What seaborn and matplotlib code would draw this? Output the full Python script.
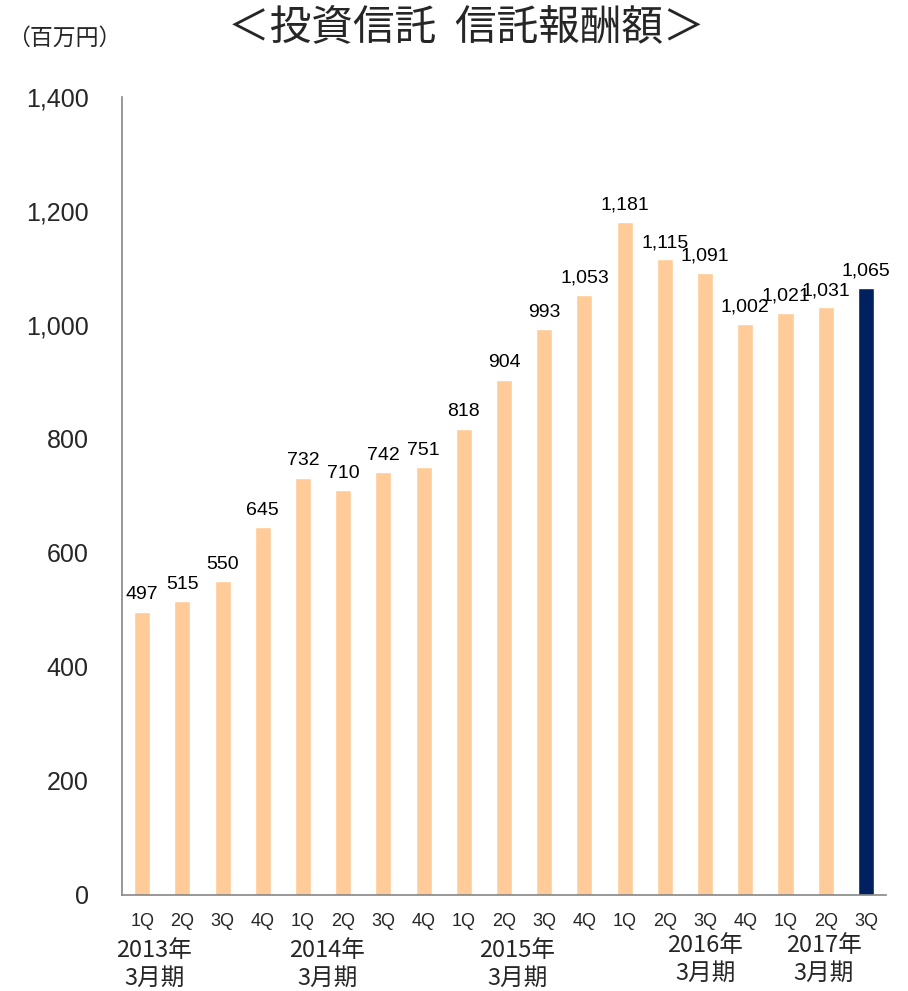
import numpy as np
import pandas as pd
import matplotlib.pyplot as plt
import seaborn as sns

# data (unit: million yen)
quarters = ["1Q", "2Q", "3Q", "4Q",
            "1Q", "2Q", "3Q", "4Q",
            "1Q", "2Q", "3Q", "4Q",
            "1Q", "2Q", "3Q", "4Q",
            "1Q", "2Q", "3Q"]
fees = [497, 515, 550, 645,
        732, 710, 742, 751,
        818, 904, 993, 1053,
        1181, 1115, 1091, 1002,
        1021, 1031, 1065]
fiscal_years = ["2013年", "2014年", "2015年", "2016年", "2017年"]
fiscal_suffix = "3月期"

COLOR_PAST = "#FFCC99"
COLOR_LATEST = "#002060"
AXIS_COLOR = "#868686"

sns.set_style("white")
plt.rcParams["font.family"] = ["Liberation Sans", "Noto Sans CJK JP", "DejaVu Sans"]
CJK = ["Noto Sans CJK JP", "DejaVu Sans"]


def main():
    df = pd.DataFrame({
        "period": [f"{i:02d}" for i in range(len(fees))],
        "fee": fees,
    })
    colors = [COLOR_PAST] * (len(fees) - 1) + [COLOR_LATEST]

    fig = plt.figure(figsize=(9.08, 9.91), dpi=100)
    ax = fig.add_axes([0.1344, 0.0969, 0.8414, 0.8052])

    sns.barplot(data=df, x="period", y="fee", hue="period", palette=colors,
                legend=False, width=0.4, dodge=False, saturation=1, ax=ax)

    for cont in ax.containers:
        ax.bar_label(cont, labels=[f"{int(b.get_height()):,}" for b in cont],
                     padding=6, fontsize=14, color="black")

    ax.set_xlim(-0.5, len(fees) - 0.5)
    ax.set_ylim(0, 1400)
    ax.set_yticks(np.arange(0, 1401, 200))
    ax.yaxis.set_major_formatter(plt.FuncFormatter(lambda v, _: f"{int(v):,}"))
    ax.set_xticks(range(len(fees)))
    ax.set_xticklabels(quarters)
    ax.set_xticks(np.arange(-0.5, len(fees)), minor=True)
    ax.tick_params(axis="x", which="major", length=0, pad=13, labelsize=13)
    ax.tick_params(axis="x", which="minor", length=6, width=1, color=AXIS_COLOR,
                   direction="out")
    ax.tick_params(axis="y", length=6, width=1, color=AXIS_COLOR, direction="out",
                   pad=18, labelsize=18)
    ax.set_xlabel("")
    ax.set_ylabel("")

    for side in ("top", "right"):
        ax.spines[side].set_visible(False)
    for side in ("left", "bottom"):
        ax.spines[side].set_color(AXIS_COLOR)
        ax.spines[side].set_linewidth(1.2)

    # fiscal year group labels under the quarter labels
    trans = ax.get_xaxis_transform()
    year_x = [0.3, 4.6, 9.33, 14.0, 16.95]
    year_y = [-0.069, -0.069, -0.069, -0.063, -0.063]
    for name, x, y in zip(fiscal_years, year_x, year_y):
        ax.text(x, y, name, transform=trans, ha="center", va="center",
                fontsize=17, family=CJK)
        ax.text(x, y - 0.035, fiscal_suffix, transform=trans, ha="center",
                va="center", fontsize=17, family=CJK)

    fig.text(0.514, 0.972, "＜投資信託  信託報酬額＞", ha="center", va="center",
             fontsize=30, family=CJK)
    fig.text(0.071, 0.961, "（百万円）", ha="center", va="center",
             fontsize=16.5, family=CJK)

    fig.savefig("out.png", dpi=100, facecolor="white")


if __name__ == "__main__":
    main()
